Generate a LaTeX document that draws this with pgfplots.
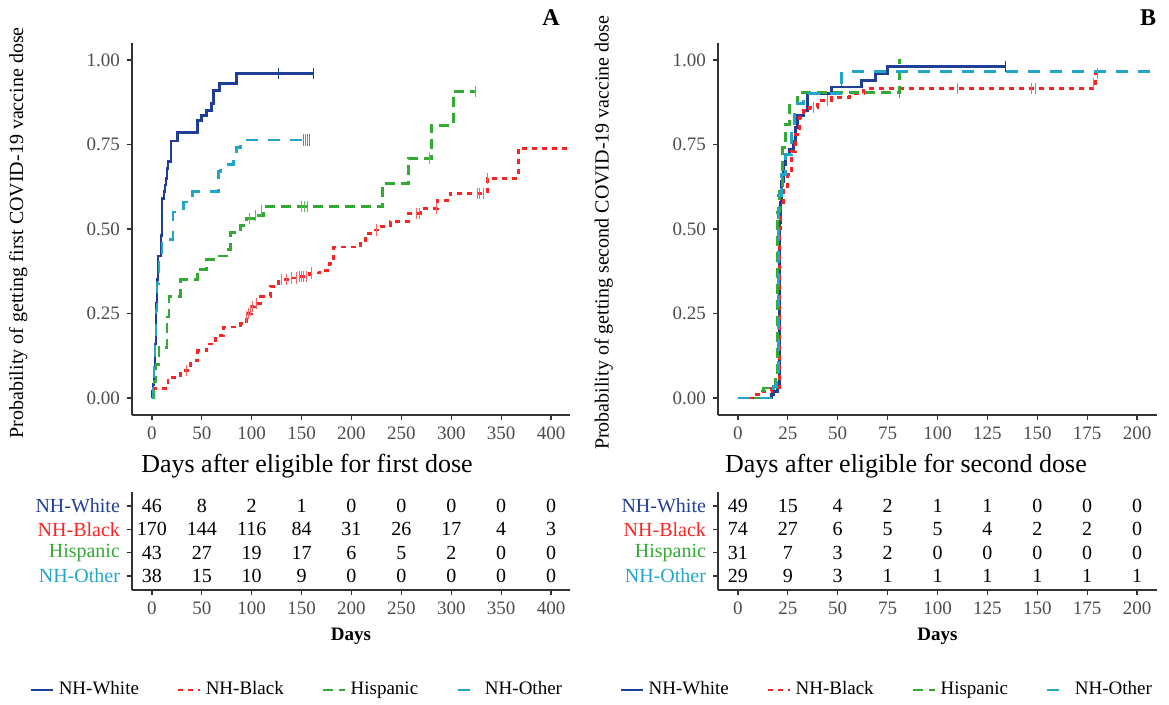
\documentclass[border=0pt]{standalone}
\usepackage{fontspec}
\setmainfont{Liberation Serif}
\usepackage{pgfplots}
\pgfplotsset{compat=1.18}

\definecolor{cwhite}{HTML}{1F3F96}
\definecolor{cblack}{HTML}{FF2222}
\definecolor{chisp}{HTML}{33AA33}
\definecolor{cother}{HTML}{22A6C8}
\definecolor{tickgrey}{HTML}{4D4D4D}

\pgfplotsset{
  base/.style={
    scale only axis,
    axis lines=left,
    axis line style={-, draw=black!80, line width=0.7pt},
    tick align=outside,
    major tick length=2.5pt,
    tick style={draw=black!80, line width=0.6pt},
    ticklabel style={font=\fontsize{9.5}{10}\selectfont, text=tickgrey},
    /pgf/number format/assume math mode=true,
    clip=false,
  },
  km/.style={
    base,
    width=219pt, height=186pt,
    ymin=-0.05, ymax=1.05,
    ytick={0,0.25,0.5,0.75,1},
    yticklabel style={/pgf/number format/.cd, fixed, fixed zerofill, precision=2},
    ylabel style={at={(axis description cs:-0.26,0.49)}, anchor=center, font=\fontsize{10}{11}\selectfont},
    legend style={draw=none, fill=none, legend columns=4,
      font=\fontsize{9.5}{10}\selectfont,
      /tikz/every even column/.append style={column sep=17pt}},
    legend image code/.code={\draw[#1] (0pt,0pt) -- (11pt,0pt);},
  },
  risk/.style={
    base,
    height=49pt,
    ymin=0.4, ymax=4.6,
    ytick={1,2,3,4},
    yticklabels={{\textcolor{cother}{NH-Other}},{\textcolor{chisp}{Hispanic}},{\textcolor{cblack}{NH-Black}},{\textcolor{cwhite}{NH-White}}},
    yticklabel style={font=\fontsize{10}{10}\selectfont},
    xlabel={\textbf{Days}},
    xlabel style={at={(axis description cs:0.5,-0.47)}, anchor=center, font=\fontsize{9.5}{10}\selectfont},
    point meta=explicit symbolic,
    nodes near coords,
    every node near coord/.append style={anchor=center, font=\fontsize{10}{10}\selectfont, text=black},
  },
  wht/.style={cwhite, line width=1.4pt, solid},
  blk/.style={cblack, line width=1.4pt, dash pattern=on 2.5pt off 2.5pt},
  hsp/.style={chisp, line width=1.4pt, dash pattern=on 5pt off 3pt},
  oth/.style={cother, line width=1.4pt, dash pattern=on 6pt off 5pt},
  cens/.style={only marks, mark=|, mark size=2.8pt, mark options={solid, line width=0.6pt}, forget plot},
}

\begin{document}
\begin{tikzpicture}
\useasboundingbox (0,0) rectangle (584.5pt,-352.5pt);

% ---------- panel A: curves ----------
\begin{axis}[km, at={(66pt,-21.5pt)}, anchor=north west,
  xmin=-20, xmax=419, xtick={0,50,...,400},
  ylabel={Probability of getting first COVID-19 vaccine dose},
  legend style={at={(axis description cs:0.379,-0.739)}, anchor=center}]
\addplot[wht, const plot] coordinates {
(0,0)(0.5,0.02)(1,0.04)(2,0.09)(3,0.16)(4,0.28)(5,0.35)(6,0.42)(9,0.48)(10,0.59)(12,0.61)(13,0.63)(14,0.65)(15,0.68)(16,0.70)(19,0.76)(26,0.785)(46,0.82)(50,0.835)(55,0.85)(60,0.87)(62,0.91)(68,0.93)(85,0.96)(162,0.96)};
\addlegendentry{NH-White}
\addplot[blk, const plot] coordinates {
(0,0)(2,0.028)(16,0.062)(29,0.082)(39,0.11)(46,0.14)(55,0.16)(64,0.186)(72,0.21)(89,0.22)(95,0.24)(97,0.25)(100,0.27)(103,0.28)(109,0.30)(119,0.33)(127,0.35)(140,0.355)(150,0.36)(158,0.37)(168,0.378)(178,0.398)(182,0.447)(209,0.467)(214,0.487)(222,0.497)(229,0.507)(239,0.522)(257,0.546)(269,0.56)(286,0.585)(299,0.605)(336,0.649)(367,0.738)(419,0.738)};
\addlegendentry{NH-Black}
\addplot[hsp, const plot] coordinates {
(0,0)(2,0.05)(4,0.10)(7,0.15)(15,0.24)(17,0.30)(29,0.35)(46,0.365)(49,0.38)(55,0.41)(62,0.42)(75,0.44)(79,0.49)(89,0.51)(95,0.53)(105,0.54)(112,0.566)(231,0.635)(257,0.709)(280,0.807)(302,0.906)(324,0.906)};
\addlegendentry{Hispanic}
\addplot[oth, const plot] coordinates {
(0,0)(1,0.05)(2,0.11)(3,0.18)(4,0.26)(5,0.34)(7,0.42)(10,0.47)(21,0.55)(32,0.58)(41,0.61)(67,0.67)(69,0.69)(82,0.72)(85,0.74)(89,0.763)(160,0.763)};
\addlegendentry{NH-Other}
% censoring marks
\addplot[cens, cwhite] coordinates {(127,0.96)(162,0.96)};
\addplot[cens, cblack!70] coordinates {(35,0.082)(95,0.24)(97,0.25)(99,0.26)(101,0.27)(105,0.28)(130,0.35)(135,0.35)(140,0.355)(145,0.355)(148,0.36)(150,0.36)(152,0.36)(155,0.36)(160,0.37)(225,0.497)(265,0.546)(268,0.546)(285,0.56)(326,0.605)(328,0.605)(332,0.605)(336,0.649)};
\addplot[cens, chisp!80] coordinates {(98,0.53)(104,0.54)(110,0.554)(150,0.566)(153,0.566)(156,0.566)(278,0.709)(324,0.906)};
\addplot[cens, cother] coordinates {(152,0.763)(154,0.763)(156,0.763)(158,0.763)};
\end{axis}

% ---------- panel B: curves ----------
\begin{axis}[km, at={(359pt,-21.5pt)}, anchor=north west, width=219.5pt,
  xmin=-10, xmax=210, xtick={0,25,...,200},
  ylabel={Probability of getting second COVID-19 vaccine dose},
  legend style={at={(axis description cs:0.387,-0.739)}, anchor=center}]
\addplot[wht, const plot] coordinates {
(0,0)(17,0.01)(18,0.02)(20,0.03)(21,0.52)(21.5,0.58)(22,0.64)(23,0.69)(24,0.72)(26,0.735)(28,0.76)(29,0.80)(30,0.835)(33,0.85)(35,0.90)(47,0.92)(62,0.94)(69,0.96)(75,0.98)(134,0.98)};
\addlegendentry{NH-White}
\addplot[blk, const plot] coordinates {
(0,0)(8,0.01)(12,0.02)(17,0.03)(21,0.50)(21.5,0.57)(23,0.62)(25,0.66)(27,0.73)(29,0.78)(31,0.83)(33,0.85)(36,0.86)(40,0.88)(47,0.89)(56,0.90)(63,0.915)(178,0.915)(179,0.96)(181,0.96)};
\addlegendentry{NH-Black}
\addplot[hsp, const plot] coordinates {
(0,0)(13,0.03)(19,0.065)(20,0.55)(21,0.62)(22.5,0.74)(24,0.81)(26,0.87)(30,0.903)(81,1.0)(81.5,1.0)};
\addlegendentry{Hispanic}
\addplot[oth, const plot] coordinates {
(0,0)(18,0.035)(19.5,0.07)(20.5,0.60)(22,0.66)(24,0.72)(27,0.79)(28.5,0.87)(33,0.90)(52,0.965)(210,0.965)};
\addlegendentry{NH-Other}
\addplot[cens, cwhite] coordinates {(134,0.98)};
\addplot[cens, cblack!70] coordinates {(38,0.86)(45,0.88)(110,0.915)(147,0.915)(149,0.915)(178,0.93)(180,0.96)};
\addplot[cens, chisp] coordinates {(81,0.903)};
\addplot[cens, cother] coordinates {(52,0.94)};
\end{axis}

% ---------- risk table A ----------
\begin{axis}[risk, at={(66pt,-246pt)}, anchor=north west, width=219pt,
  xmin=-20, xmax=419, xtick={0,50,...,400}]
\addplot[draw=none] coordinates {(0,4)[46](50,4)[8](100,4)[2](150,4)[1](200,4)[0](250,4)[0](300,4)[0](350,4)[0](400,4)[0]};
\addplot[draw=none] coordinates {(0,3)[170](50,3)[144](100,3)[116](150,3)[84](200,3)[31](250,3)[26](300,3)[17](350,3)[4](400,3)[3]};
\addplot[draw=none] coordinates {(0,2)[43](50,2)[27](100,2)[19](150,2)[17](200,2)[6](250,2)[5](300,2)[2](350,2)[0](400,2)[0]};
\addplot[draw=none] coordinates {(0,1)[38](50,1)[15](100,1)[10](150,1)[9](200,1)[0](250,1)[0](300,1)[0](350,1)[0](400,1)[0]};
\end{axis}

% ---------- risk table B ----------
\begin{axis}[risk, at={(359pt,-246pt)}, anchor=north west, width=219.5pt,
  xmin=-10, xmax=210, xtick={0,25,...,200}]
\addplot[draw=none] coordinates {(0,4)[49](25,4)[15](50,4)[4](75,4)[2](100,4)[1](125,4)[1](150,4)[0](175,4)[0](200,4)[0]};
\addplot[draw=none] coordinates {(0,3)[74](25,3)[27](50,3)[6](75,3)[5](100,3)[5](125,3)[4](150,3)[2](175,3)[2](200,3)[0]};
\addplot[draw=none] coordinates {(0,2)[31](25,2)[7](50,2)[3](75,2)[2](100,2)[0](125,2)[0](150,2)[0](175,2)[0](200,2)[0]};
\addplot[draw=none] coordinates {(0,1)[29](25,1)[9](50,1)[3](75,1)[1](100,1)[1](125,1)[1](150,1)[1](175,1)[1](200,1)[1]};
\end{axis}

% titles and panel letters
\node[font=\fontsize{13}{13}\selectfont] at (153.5pt,-233pt) {Days after eligible for first dose};
\node[font=\fontsize{13}{13}\selectfont] at (453pt,-233pt) {Days after eligible for second dose};
\node[font=\bfseries\fontsize{12}{12}\selectfont] at (275.5pt,-9pt) {A};
\node[font=\bfseries\fontsize{12}{12}\selectfont] at (574pt,-9pt) {B};
\end{tikzpicture}
\end{document}
